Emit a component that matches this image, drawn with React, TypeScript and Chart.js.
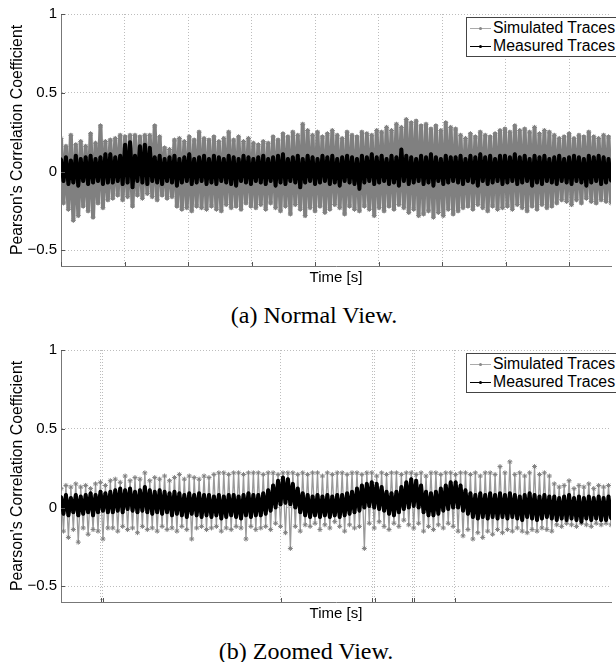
import React, { useEffect, useRef } from "react";
import { Chart, registerables } from "chart.js";

Chart.register(...registerables);

// ---------- data ----------
const X_MAX = 8.66;
const NORMAL_X_TICKS = [0, 1, 2, 3, 4, 5, 6, 7, 8];
const ZOOM_X_TICKS = [0.625, 0.655, 3.46, 4.9, 4.94, 5.53, 5.56, 6.2];
const Y_TICKS = [-0.5, 0, 0.5, 1];
const SERIES_NAMES = ["Simulated Traces", "Measured Traces"];
const CAPTIONS = ["(a) Normal View.", "(b) Zoomed View."];
const X_TITLE = "Time [s]";
const Y_TITLE = "Pearson's Correlation Coefficient";

// (a) Normal view – upper / lower excursions read along the time axis
const simUpperA = [
  0.21, 0.16, 0.23, 0.17, 0.19, 0.16, 0.24, 0.18, 0.29, 0.19,
  0.2, 0.21, 0.23, 0.22, 0.23, 0.23, 0.22, 0.23, 0.23, 0.29,
  0.22, 0.15, 0.14, 0.2, 0.21, 0.19, 0.22, 0.2, 0.25, 0.21,
  0.2, 0.22, 0.19, 0.21, 0.25, 0.2, 0.22, 0.19, 0.21, 0.18,
  0.17, 0.19, 0.18, 0.22, 0.2, 0.24, 0.22, 0.25, 0.23, 0.3,
  0.26, 0.23, 0.25, 0.22, 0.24, 0.26, 0.23, 0.21, 0.25, 0.23,
  0.22, 0.25, 0.24, 0.23, 0.26, 0.25, 0.28, 0.26, 0.3, 0.28,
  0.33, 0.31, 0.32, 0.29, 0.3, 0.27, 0.29, 0.26, 0.31, 0.28,
  0.27, 0.23, 0.21, 0.24, 0.22, 0.25, 0.23, 0.22, 0.24, 0.26,
  0.27, 0.25, 0.29, 0.26, 0.27, 0.25, 0.28, 0.24, 0.26, 0.25,
  0.23, 0.21, 0.22, 0.24, 0.21, 0.23, 0.22, 0.25, 0.22, 0.21,
  0.23, 0.22,
];
const simLowerA = [
  -0.2, -0.24, -0.31, -0.28, -0.22, -0.25, -0.29, -0.2, -0.23, -0.18,
  -0.17, -0.15, -0.18, -0.16, -0.22, -0.15, -0.17, -0.14, -0.16, -0.18,
  -0.15, -0.17, -0.16, -0.22, -0.24, -0.23, -0.25, -0.22, -0.23, -0.24,
  -0.22, -0.24, -0.25, -0.21, -0.23, -0.22, -0.24, -0.2, -0.22, -0.23,
  -0.21, -0.24, -0.2, -0.23, -0.25, -0.22, -0.27, -0.21, -0.24, -0.28,
  -0.23, -0.25, -0.22, -0.26, -0.24, -0.21, -0.23, -0.27, -0.22, -0.24,
  -0.25, -0.22, -0.24, -0.28, -0.23, -0.25, -0.22, -0.24, -0.21, -0.23,
  -0.26, -0.24, -0.28, -0.27, -0.25, -0.29, -0.26, -0.28, -0.24, -0.27,
  -0.25, -0.23, -0.22, -0.24, -0.21, -0.23, -0.25, -0.22, -0.24, -0.23,
  -0.22, -0.24, -0.21, -0.23, -0.25, -0.22, -0.24, -0.21, -0.23, -0.22,
  -0.2, -0.18, -0.19, -0.21, -0.18, -0.2, -0.17, -0.19, -0.2, -0.18,
  -0.19, -0.2,
];
const measUpperA = [
  0.08, 0.09, 0.07, 0.1, 0.08, 0.09, 0.1, 0.08, 0.09, 0.11,
  0.11, 0.09, 0.1, 0.17, 0.185, 0.1, 0.16, 0.17, 0.15, 0.09,
  0.1, 0.08, 0.09, 0.1, 0.08, 0.09, 0.11, 0.08, 0.09, 0.1,
  0.08, 0.1, 0.09, 0.08, 0.1, 0.09, 0.08, 0.1, 0.09, 0.08,
  0.09, 0.1, 0.08, 0.09, 0.1, 0.11, 0.08, 0.09, 0.1, 0.08,
  0.1, 0.09, 0.08, 0.1, 0.09, 0.1, 0.08, 0.09, 0.1, 0.09,
  0.08, 0.1, 0.09, 0.11, 0.09, 0.1, 0.08, 0.1, 0.09, 0.14,
  0.1, 0.09, 0.08, 0.1, 0.09, 0.11, 0.09, 0.08, 0.1, 0.09,
  0.09, 0.1, 0.08, 0.1, 0.09, 0.11, 0.09, 0.1, 0.08, 0.1,
  0.1, 0.09, 0.11, 0.09, 0.1, 0.08, 0.1, 0.09, 0.1, 0.08,
  0.09, 0.1, 0.08, 0.09, 0.1, 0.09, 0.08, 0.1, 0.09, 0.1,
  0.09, 0.08,
];
const measLowerA = [
  -0.06, -0.08, -0.07, -0.09, -0.06, -0.08, -0.07, -0.06, -0.08, -0.07,
  -0.07, -0.06, -0.08, -0.07, -0.1, -0.06, -0.07, -0.08, -0.06, -0.07,
  -0.08, -0.06, -0.07, -0.09, -0.07, -0.06, -0.08, -0.07, -0.06, -0.08,
  -0.07, -0.08, -0.06, -0.07, -0.08, -0.09, -0.06, -0.07, -0.08, -0.06,
  -0.07, -0.08, -0.06, -0.09, -0.07, -0.08, -0.06, -0.07, -0.1, -0.07,
  -0.06, -0.08, -0.07, -0.06, -0.08, -0.07, -0.09, -0.06, -0.07, -0.08,
  -0.11, -0.07, -0.06, -0.08, -0.07, -0.06, -0.08, -0.07, -0.09, -0.06,
  -0.08, -0.07, -0.06, -0.08, -0.07, -0.09, -0.06, -0.08, -0.07, -0.06,
  -0.07, -0.08, -0.06, -0.07, -0.09, -0.06, -0.08, -0.07, -0.06, -0.08,
  -0.07, -0.06, -0.08, -0.07, -0.06, -0.09, -0.07, -0.08, -0.06, -0.07,
  -0.08, -0.06, -0.07, -0.08, -0.06, -0.07, -0.09, -0.07, -0.06, -0.08,
  -0.07, -0.06,
];

// (b) Zoomed view
const simUpperB = [
  0.12, 0.14, 0.13, 0.15, 0.13, 0.14, 0.12, 0.15, 0.16, 0.14,
  0.17, 0.18, 0.16, 0.2, 0.17, 0.19, 0.18, 0.22, 0.17, 0.19,
  0.18, 0.2, 0.17, 0.19, 0.21, 0.18, 0.2, 0.19, 0.18, 0.2,
  0.19, 0.21, 0.22, 0.22, 0.21, 0.22, 0.22, 0.21, 0.22, 0.22,
  0.22, 0.21, 0.22, 0.22, 0.21, 0.22, 0.22, 0.22, 0.21, 0.22,
  0.21, 0.22, 0.22, 0.2, 0.22, 0.21, 0.22, 0.22, 0.21, 0.22,
  0.22, 0.21, 0.22, 0.22, 0.2, 0.22, 0.21, 0.22, 0.22, 0.21,
  0.22, 0.22, 0.21, 0.22, 0.2, 0.22, 0.22, 0.21, 0.22, 0.22,
  0.21, 0.22, 0.22, 0.21, 0.22, 0.2, 0.22, 0.22, 0.21, 0.26,
  0.22, 0.29, 0.21, 0.22, 0.2, 0.22, 0.26, 0.21, 0.22, 0.2,
  0.15, 0.13, 0.14, 0.17, 0.12, 0.14, 0.13, 0.15, 0.12, 0.14,
  0.13, 0.14,
];
const simLowerB = [
  -0.15, -0.19, -0.14, -0.22, -0.13, -0.17, -0.14, -0.15, -0.2, -0.13,
  -0.13, -0.15, -0.12, -0.14, -0.13, -0.16, -0.12, -0.14, -0.13, -0.15,
  -0.12, -0.14, -0.13, -0.15, -0.12, -0.14, -0.2, -0.13, -0.12, -0.14,
  -0.13, -0.12, -0.15, -0.13, -0.14, -0.12, -0.13, -0.2, -0.12, -0.14,
  -0.13, -0.12, -0.14, -0.1, -0.12, -0.16, -0.26, -0.12, -0.15, -0.11,
  -0.12, -0.1, -0.14, -0.11, -0.13, -0.09, -0.12, -0.15, -0.11, -0.13,
  -0.12, -0.26, -0.1, -0.13, -0.09, -0.12, -0.14, -0.1, -0.12, -0.08,
  -0.11, -0.13, -0.1, -0.15, -0.12, -0.14, -0.11, -0.13, -0.1, -0.12,
  -0.15, -0.18, -0.14, -0.2, -0.16, -0.19, -0.15, -0.17, -0.14, -0.16,
  -0.14, -0.15, -0.13, -0.15, -0.16, -0.14, -0.15, -0.13, -0.14, -0.15,
  -0.11, -0.12, -0.1, -0.11, -0.12, -0.1, -0.11, -0.12, -0.1, -0.11,
  -0.1, -0.11,
];
const measUpperB = [
  0.07, 0.08, 0.06, 0.08, 0.07, 0.08, 0.09, 0.08, 0.1, 0.09,
  0.1, 0.11, 0.12, 0.11, 0.12, 0.1, 0.11, 0.13, 0.11, 0.1,
  0.11, 0.1, 0.09, 0.1, 0.09, 0.08, 0.09, 0.08, 0.09, 0.08,
  0.08, 0.07, 0.08, 0.07, 0.08, 0.08, 0.07, 0.08, 0.09, 0.08,
  0.08, 0.09, 0.11, 0.14, 0.17, 0.19, 0.18, 0.15, 0.12, 0.09,
  0.08, 0.07, 0.08, 0.07, 0.08, 0.07, 0.08, 0.08, 0.09, 0.1,
  0.12, 0.14, 0.15, 0.16, 0.15, 0.13, 0.1, 0.09, 0.1, 0.13,
  0.16, 0.18, 0.17, 0.14, 0.1, 0.09, 0.1, 0.12, 0.14, 0.16,
  0.16, 0.14, 0.11, 0.09, 0.08, 0.09, 0.08, 0.09, 0.08, 0.09,
  0.08, 0.09, 0.08, 0.07, 0.08, 0.09, 0.08, 0.07, 0.08, 0.07,
  0.07, 0.06, 0.07, 0.08, 0.06, 0.07, 0.06, 0.07, 0.06, 0.07,
  0.06, 0.07,
];
const measLowerB = [
  -0.04, -0.05, -0.03, -0.05, -0.04, -0.03, -0.05, -0.03, -0.02, -0.03,
  -0.03, -0.02, -0.03, -0.01, -0.02, -0.03, -0.02, -0.03, -0.04, -0.03,
  -0.04, -0.03, -0.05, -0.04, -0.05, -0.06, -0.04, -0.05, -0.06, -0.05,
  -0.06, -0.05, -0.07, -0.06, -0.05, -0.06, -0.07, -0.05, -0.06, -0.05,
  -0.05, -0.04, -0.02, 0.0, 0.02, 0.03, 0.02, 0.0, -0.03, -0.05,
  -0.06, -0.05, -0.06, -0.05, -0.06, -0.05, -0.06, -0.05, -0.04, -0.03,
  -0.02, 0.0, 0.01, 0.0, -0.01, -0.02, -0.04, -0.05, -0.03, -0.01,
  0.0, 0.01, 0.0, -0.03, -0.05, -0.05, -0.04, -0.02, -0.01, 0.0,
  0.0, -0.02, -0.04, -0.06, -0.07, -0.06, -0.07, -0.06, -0.07, -0.06,
  -0.07, -0.06, -0.07, -0.08, -0.06, -0.07, -0.08, -0.07, -0.06, -0.07,
  -0.08, -0.07, -0.08, -0.07, -0.08, -0.09, -0.07, -0.08, -0.07, -0.08,
  -0.08, -0.07,
];

// ---------- helpers ----------
const SANS = '"Liberation Sans", Arial, Helvetica, sans-serif';
const SERIF = '"Liberation Serif", "Times New Roman", serif';

type Pt = { x: number; y: number };
function zigzag(upper: number[], lower: number[]): Pt[] {
  const n = upper.length;
  const dx = X_MAX / (n - 0.5);
  const pts: Pt[] = [];
  for (let i = 0; i < n; i++) {
    pts.push({ x: i * dx, y: upper[i] });
    pts.push({ x: (i + 0.5) * dx, y: lower[i] });
  }
  return pts;
}

const inwardTicks = {
  id: "inwardTicks",
  afterDraw(chart: any) {
    const { ctx, chartArea, scales } = chart;
    ctx.save();
    ctx.strokeStyle = "#555";
    ctx.lineWidth = 1;
    ctx.setLineDash([]);
    scales.x.ticks.forEach((t: any) => {
      const px = Math.round(scales.x.getPixelForValue(t.value)) + 0.5;
      ctx.beginPath();
      ctx.moveTo(px, chartArea.bottom);
      ctx.lineTo(px, chartArea.bottom - 4);
      ctx.stroke();
    });
    scales.y.ticks.forEach((t: any) => {
      const py = Math.round(scales.y.getPixelForValue(t.value)) + 0.5;
      ctx.beginPath();
      ctx.moveTo(chartArea.left, py);
      ctx.lineTo(chartArea.left + 4, py);
      ctx.stroke();
    });
    ctx.restore();
  },
};

function fmt(v: number): string {
  if (v < 0) return "\u2212" + String(Math.abs(v));
  return String(v);
}

type PanelProps = {
  top: number;
  sim: Pt[];
  meas: Pt[];
  xTicks: number[];
  simLine: string;
  simWidth: number;
};

function Panel({ top, sim, meas, xTicks, simLine, simWidth }: PanelProps) {
  const ref = useRef<HTMLCanvasElement>(null);
  useEffect(() => {
    if (!ref.current) return;
    const gridColor = "#bdbdbd";
    const chart = new Chart(ref.current, {
      type: "line",
      data: {
        datasets: [
          {
            label: SERIES_NAMES[1],
            data: meas,
            borderColor: "#000",
            backgroundColor: "#000",
            borderWidth: 4,
            borderJoinStyle: "round",
            pointRadius: 1.6,
            pointBorderWidth: 0,
            pointBackgroundColor: "#000",
            order: 0,
          },
          {
            label: SERIES_NAMES[0],
            data: sim,
            borderColor: simLine,
            backgroundColor: "#808080",
            borderWidth: simWidth,
            borderJoinStyle: "round",
            pointStyle: "star",
            pointRadius: 2.5,
            pointBorderWidth: 1,
            pointBorderColor: "#808080",
            order: 1,
          },
        ],
      } as any,
      options: {
        responsive: false,
        animation: false,
        events: [],
        layout: { padding: { top: 14, right: 0, left: 0, bottom: 0 } },
        plugins: { legend: { display: false }, tooltip: { enabled: false } },
        scales: {
          x: {
            type: "linear",
            min: 0,
            max: X_MAX,
            afterBuildTicks: (s: any) => {
              s.ticks = xTicks.map((v) => ({ value: v }));
            },
            afterFit: (s: any) => {
              s.height = 34;
            },
            ticks: { display: false },
            grid: { color: gridColor, drawTicks: false, lineWidth: 1 },
            border: { color: "#777", width: 1, dash: [1, 2] },
            title: {
              display: true,
              text: X_TITLE,
              color: "#000",
              font: { family: SANS, size: 15, lineHeight: 1.2 },
              padding: { top: 0, bottom: 13 },
            },
          },
          y: {
            type: "linear",
            min: -0.6,
            max: 1,
            afterBuildTicks: (s: any) => {
              s.ticks = Y_TICKS.map((v) => ({ value: v }));
            },
            afterFit: (s: any) => {
              s.width = 61;
            },
            ticks: {
              callback: (v: any) => fmt(Number(v)),
              color: "#000",
              font: { family: SANS, size: 15 },
              padding: 4,
            },
            grid: { color: gridColor, drawTicks: false, lineWidth: 1 },
            border: { color: "#777", width: 1, dash: [1, 2] },
            title: {
              display: true,
              text: Y_TITLE,
              color: "#000",
              font: { family: SANS, size: 15.8, lineHeight: 1.2 },
              padding: { top: 8, bottom: 0 },
            },
          },
        },
      } as any,
      plugins: [inwardTicks],
    });
    return () => chart.destroy();
  }, []);
  return (
    <canvas
      ref={ref}
      width={616}
      height={300}
      style={{ position: "absolute", left: 0, top, width: 616, height: 300 }}
    />
  );
}

function Legend({ top }: { top: number }) {
  const row = (label: string, color: string, lineColor: string, y: number) => (
    <div style={{ position: "absolute", left: 0, top: y, height: 18, width: 200 }}>
      <div style={{ position: "absolute", left: 3, top: 9, width: 21, height: 1, background: lineColor }} />
      <div
        style={{
          position: "absolute",
          left: 12,
          top: 8,
          width: 3,
          height: 3,
          borderRadius: 2,
          background: color,
        }}
      />
      <div
        style={{
          position: "absolute",
          left: 26,
          top: 0,
          lineHeight: "18px",
          fontSize: 15.8,
          fontFamily: SANS,
          color: "#000",
          whiteSpace: "nowrap",
        }}
      >
        {label}
      </div>
    </div>
  );
  return (
    <div
      style={{
        position: "absolute",
        left: 466,
        top,
        width: 170,
        height: 38,
        border: "1px solid #444",
        background: "#fff",
      }}
    >
      {row(SERIES_NAMES[0], "#888", "#aaa", 1)}
      {row(SERIES_NAMES[1], "#000", "#000", 19)}
    </div>
  );
}

function Caption({ text, center, top }: { text: string; center: number; top: number }) {
  return (
    <div
      style={{
        position: "absolute",
        left: 0,
        top,
        width: center * 2,
        textAlign: "center",
        fontFamily: SERIF,
        fontSize: 24,
        lineHeight: "normal",
        color: "#000",
        whiteSpace: "nowrap",
      }}
    >
      {text}
    </div>
  );
}

export default function App() {
  const simA = zigzag(simUpperA, simLowerA);
  const measA = zigzag(measUpperA, measLowerA);
  const simB = zigzag(simUpperB, simLowerB);
  const measB = zigzag(measUpperB, measLowerB);
  return (
    <div
      style={{
        position: "absolute",
        left: 0,
        top: 0,
        width: 616,
        height: 662,
        overflow: "hidden",
        background: "#fff",
      }}
    >
      <Panel top={0} sim={simA} meas={measA} xTicks={NORMAL_X_TICKS} simLine="#808080" simWidth={4} />
      <Legend top={17} />
      <Caption text={CAPTIONS[0]} center={314} top={302} />
      <Panel top={336} sim={simB} meas={measB} xTicks={ZOOM_X_TICKS} simLine="#9a9a9a" simWidth={1.3} />
      <Legend top={353} />
      <Caption text={CAPTIONS[1]} center={306} top={638} />
    </div>
  );
}
